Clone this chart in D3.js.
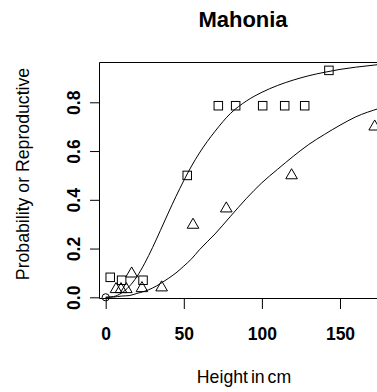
<!DOCTYPE html>
<html>
<head>
<meta charset="utf-8">
<script src="https://cdn.jsdelivr.net/npm/d3@7"></script>
<style>
  html, body { margin: 0; padding: 0; background: #fff; }
  svg { display: block; }
  text { font-family: "Liberation Sans", Arial, Helvetica, sans-serif; fill: #000; }
</style>
</head>
<body>
<svg id="chart" width="377" height="392"></svg>
<script>
// Observed proportions reproductive, by height class (cm)
const squareHeight = [2.9, 10.2, 23.9, 52.2, 72.1, 83.2, 100.5, 114.6, 127.4, 142.9];
const squareProb   = [0.082, 0.07, 0.07, 0.50, 0.786, 0.786, 0.786, 0.786, 0.786, 0.931];

const triangleHeight = [6.6, 9.8, 13.2, 16.6, 23.2, 35.8, 55.9, 77.2, 119, 172.2];
const triangleProb   = [0.033, 0.033, 0.033, 0.097, 0.037, 0.04, 0.297, 0.364, 0.50, 0.70];

const circleHeight = [0];
const circleProb   = [0];

// Fitted response curves
const curveHeight = [0, 5, 10, 15, 20, 25, 30, 35, 40, 45, 50, 55, 60, 70, 80, 90, 100, 110, 120, 130, 140, 150, 160, 175, 185];
const upperFit = [0, 0.003, 0.017, 0.044, 0.085, 0.14, 0.204, 0.274, 0.345, 0.414, 0.479, 0.539, 0.592, 0.681, 0.755, 0.805, 0.841, 0.869, 0.891, 0.909, 0.923, 0.935, 0.944, 0.955, 0.961];
const lowerFit = [0, 0.001, 0.005, 0.007, 0.016, 0.025, 0.038, 0.056, 0.077, 0.10, 0.128, 0.158, 0.195, 0.26, 0.333, 0.405, 0.47, 0.525, 0.578, 0.627, 0.668, 0.706, 0.74, 0.775, 0.795];

const xTicks = [0, 50, 100, 150];
const yTicks = [0, 0.2, 0.4, 0.6, 0.8];

const titleText = "Mahonia";
const xLabel = "Height in cm";
const yLabel = "Probability or Reproductive";

(function draw() {
  const svg = d3.select("#chart");
  svg.append("rect").attr("width", 377).attr("height", 392).attr("fill", "#fff");

  const x = d3.scaleLinear().domain([0, 150]).range([105.7, 340.0]);
  const y = d3.scaleLinear().domain([0, 0.8]).range([297.3, 102.3]);

  // plot region edges
  const pLeft = 99.5, pTop = 62.5, pBottom = 298.5, pRight = x(186);

  svg.append("defs").append("clipPath").attr("id", "plotclip")
    .append("rect").attr("x", pLeft).attr("y", pTop)
    .attr("width", pRight - pLeft).attr("height", pBottom - pTop);

  // fitted curves
  const line = d3.line()
    .x(d => x(d[0])).y(d => y(d[1]))
    .curve(d3.curveMonotoneX);

  const curves = svg.append("g").attr("clip-path", "url(#plotclip)");
  [upperFit, lowerFit].forEach(fit => {
    curves.append("path")
      .datum(curveHeight.map((h, i) => [h, fit[i]]))
      .attr("d", line)
      .attr("fill", "none")
      .attr("stroke", "#000")
      .attr("stroke-width", 1);
  });

  // markers
  const marks = svg.append("g").attr("fill", "none").attr("stroke", "#000").attr("stroke-width", 1);

  const sq = 8.5;
  marks.selectAll("rect.sq")
    .data(squareHeight.map((h, i) => [h, squareProb[i]]))
    .join("rect")
    .attr("class", "sq")
    .attr("x", d => x(d[0]) - sq / 2)
    .attr("y", d => y(d[1]) - sq / 2)
    .attr("width", sq).attr("height", sq);

  const r = 6.7;
  marks.selectAll("path.tri")
    .data(triangleHeight.map((h, i) => [h, triangleProb[i]]))
    .join("path")
    .attr("class", "tri")
    .attr("d", d => {
      const cx = x(d[0]), cy = y(d[1]);
      const hw = r * Math.sqrt(3) / 2;
      return `M${cx},${cy - r}L${cx + hw},${cy + r / 2}L${cx - hw},${cy + r / 2}Z`;
    });

  marks.selectAll("circle.pt")
    .data(circleHeight.map((h, i) => [h, circleProb[i]]))
    .join("circle")
    .attr("class", "pt")
    .attr("cx", d => x(d[0])).attr("cy", d => y(d[1]))
    .attr("r", 3.6);

  // frame
  svg.append("path")
    .attr("d", `M${pRight},${pTop}H${pLeft}V${pBottom}H${pRight}`)
    .attr("fill", "none").attr("stroke", "#000").attr("stroke-width", 1);

  // x axis
  const xAxis = svg.append("g")
    .attr("transform", `translate(0,${pBottom})`)
    .call(d3.axisBottom(x).tickValues(xTicks).tickFormat(d3.format("d"))
      .tickSizeInner(10.5).tickSizeOuter(0));
  xAxis.select(".domain").remove();
  xAxis.selectAll(".tick line").attr("stroke", "#000");
  xAxis.selectAll(".tick text")
    .attr("y", 41.5).attr("dy", 0)
    .style("font-size", "17.5px").style("font-weight", "bold")
    .attr("fill", "#000");

  // y axis
  const yAxis = svg.append("g")
    .attr("transform", `translate(${pLeft},0)`)
    .call(d3.axisLeft(y).tickValues(yTicks).tickFormat(d3.format(".1f"))
      .tickSizeInner(9.5).tickSizeOuter(0));
  yAxis.select(".domain").remove();
  yAxis.selectAll(".tick line").attr("stroke", "#000");
  yAxis.selectAll(".tick text")
    .attr("transform", "rotate(-90)")
    .attr("x", 0).attr("y", -19.5).attr("dy", 0)
    .attr("text-anchor", "middle")
    .style("font-size", "17.5px").style("font-weight", "bold")
    .attr("fill", "#000");

  // titles
  svg.append("text")
    .attr("x", 243).attr("y", 26.5)
    .attr("text-anchor", "middle")
    .style("font-size", "22px").style("font-weight", "bold")
    .text(titleText);

  svg.append("text")
    .attr("x", 244).attr("y", 383.3)
    .attr("text-anchor", "middle")
    .style("font-size", "17.7px")
    .style("word-spacing", "-2px")
    .text(xLabel);

  svg.append("text")
    .attr("transform", "translate(29,174) rotate(-90)")
    .attr("text-anchor", "middle")
    .style("font-size", "17.7px")
    .text(yLabel);
})();
</script>
</body>
</html>
